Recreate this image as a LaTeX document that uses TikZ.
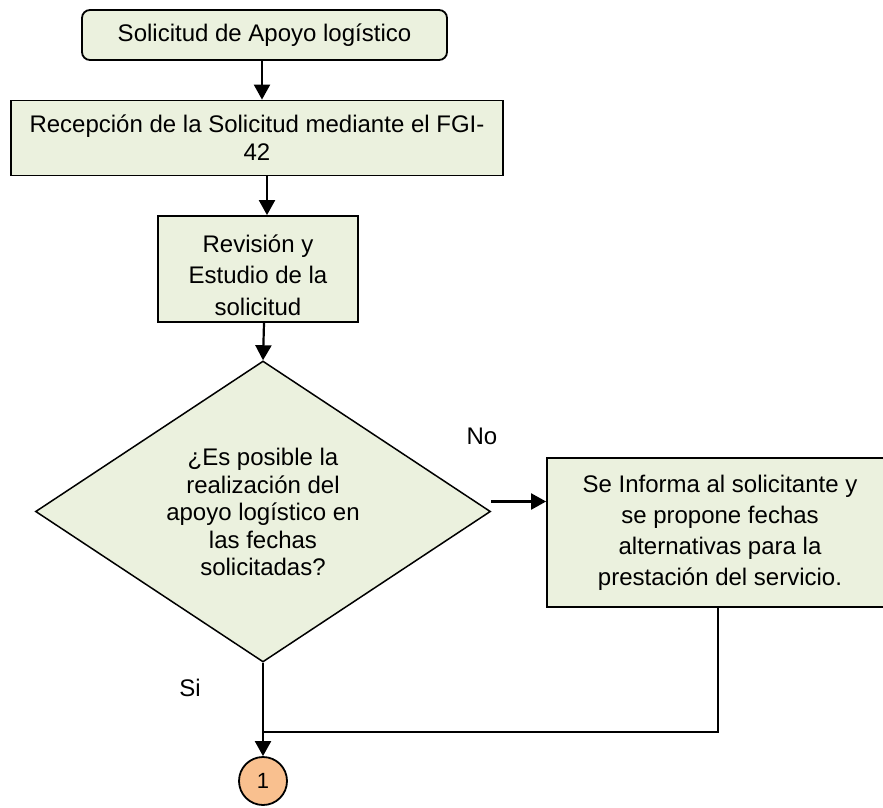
\documentclass[tikz,border=0pt]{standalone}
\usepackage{fontspec}
\setmainfont{Liberation Sans}
\usetikzlibrary{shapes.geometric,arrows.meta}
\definecolor{boxfill}{HTML}{EBF1DE}
\definecolor{connfill}{HTML}{F9C08F}

\begin{document}
\begin{tikzpicture}[x=1pt,y=-1pt,
  txt/.style={font=\fontsize{24}{#1}\selectfont,align=center,inner sep=0pt},
  txt/.default=31,
  stepbox/.style={draw=black,fill=boxfill,line width=1.8pt,inner sep=0pt},
  arr/.style={line width=2.2pt,-{Triangle[width=16pt,length=15pt]}},
  flow/.style={line width=1.6pt}]
\useasboundingbox (0,0) rectangle (883,808);
\begin{scope}
\clip (0,0) rectangle (883,808);

% process boxes
\node[stepbox,rounded corners=8pt,minimum width=365pt,minimum height=50pt,txt]
  (start) at (264.5,35) {Solicitud de Apoyo logístico};
\node[stepbox,minimum width=492pt,minimum height=75pt,txt=28]
  (recv) at (257,138) {Recepción de la Solicitud mediante el FGI-\\42};
\node[stepbox,minimum width=200pt,minimum height=106pt]
  (rev) at (258,269) {};
\node[txt=31.5] (revtext) at (258,275) {Revisión y\\Estudio de la\\solicitud};

% decision
\node[draw=black,fill=boxfill,line width=1.5pt,diamond,minimum width=455pt,
  minimum height=301pt,inner sep=0pt] (dec) at (263,511.5) {};
\node[txt=27.5] (dectext) at (263,512)
  {¿Es posible la\\realización del\\apoyo logístico en\\las fechas\\solicitadas?};

\node[stepbox,minimum width=346pt,minimum height=149pt,txt=31]
  (info) at (720,532.5)
  {Se Informa al solicitante y\\se propone fechas\\alternativas para la\\prestación del servicio.};

% off-page connector
\node[circle,draw=black,fill=connfill,line width=1.8pt,minimum size=48pt,
  inner sep=0pt,font=\fontsize{22}{26}\selectfont] (conn) at (263,781) {1};

% branch labels
\node[txt] (nolabel) at (482,436) {No};
\node[txt] (silabel) at (190,688) {Si};

% connectors
\coordinate (a1) at ([xshift=-2.5pt]start.south);
\draw[arr] (a1) -- (a1 |- recv.north);
\coordinate (a2) at ([xshift=10pt]recv.south);
\draw[arr] (a2) -- (a2 |- rev.north);
\coordinate (a3) at ([xshift=6pt]rev.south);
\draw[arr] (a3) -- (dec.north);
\coordinate (noout) at ([yshift=10pt]dec.east);
\draw[arr] (noout) -- (noout -| info.west);
\coordinate (merge) at (dec.south |- 0,732);
\draw[flow] ([xshift=-2pt]info.south) |- (merge);
\draw[arr] (dec.south) -- (conn.north);
\end{scope}
\end{tikzpicture}
\end{document}
